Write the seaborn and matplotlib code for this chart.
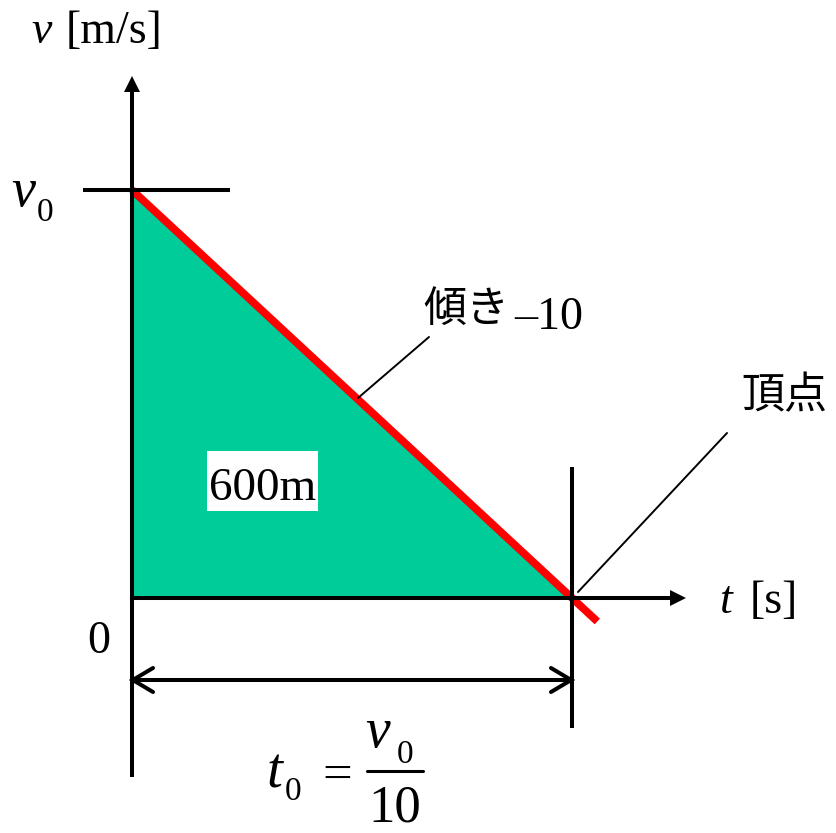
import matplotlib
matplotlib.use("Agg")
import matplotlib.pyplot as plt
import seaborn as sns
import pandas as pd

# ---- data ----
t0 = 10.95            # s  (t0 = v0/10)
v0 = 109.5            # m/s
slope_label = "–10"
area_label = "600m"
tri_t = [0.0, 0.0, t0]
tri_v = [0.0, v0, 0.0]
line_t = [0.0, 11.58]
line_v = [109.5, -6.3]

# ---- style ----
sns.set_theme(style="white")
plt.rcParams["font.family"] = ["Liberation Serif", "DejaVu Serif"]
SERIF = "Liberation Serif"
JP = "Noto Sans CJK JP"

W, H = 837, 833
fig = plt.figure(figsize=(W / 100, H / 100), dpi=100)
ax = fig.add_axes([0, 0, 1, 1])

# pixel layout helpers (layout only)
OX, OY = 132, 598
SX = 440 / t0
SY = 408 / v0
def X(px):
    return (px - OX) / SX
def Y(py):
    return (OY - py) / SY

ax.set_xlim(X(0), X(W))
ax.set_ylim(Y(H), Y(0))
ax.axis("off")

AXLW = 2.9
# filled triangle (distance)
ax.fill(tri_t, tri_v, color="#00CC99", lw=0, zorder=1)

# red v-t line
df = pd.DataFrame({"t": line_t, "v": line_v})
sns.lineplot(data=df, x="t", y="v", color="#FF0000", lw=5.6, sort=False,
             ax=ax, zorder=2, solid_capstyle="butt")

# axes
ax.plot([0, 0], [Y(777), Y(90)], color="black", lw=AXLW, zorder=3, solid_capstyle="butt")
ax.fill([X(124), X(132), X(140)], [Y(92), Y(76), Y(92)], color="black", lw=0, zorder=3)
ax.plot([0, X(672)], [0, 0], color="black", lw=AXLW, zorder=3, solid_capstyle="butt")
ax.fill([X(670), X(686), X(670)], [Y(590), Y(598), Y(606)], color="black", lw=0, zorder=3)

# v0 tick and t0 vertical
ax.plot([X(83), X(230)], [v0, v0], color="black", lw=AXLW, zorder=3, solid_capstyle="butt")
ax.plot([t0, t0], [Y(467), Y(728)], color="black", lw=AXLW, zorder=3, solid_capstyle="butt")

# dimension arrow
ax.plot([0, t0], [Y(680), Y(680)], color="black", lw=AXLW, zorder=3, solid_capstyle="butt")
ax.plot([X(153), 0.02, X(153)], [Y(668), Y(680), Y(692)], color="black", lw=AXLW,
        zorder=3, solid_capstyle="round", solid_joinstyle="miter")
ax.plot([X(551), t0 - 0.02, X(551)], [Y(668), Y(680), Y(692)], color="black", lw=AXLW,
        zorder=3, solid_capstyle="round", solid_joinstyle="miter")

# leader lines
ax.plot([X(358), X(429)], [Y(398), Y(337)], color="black", lw=1.4, zorder=3)
ax.plot([X(578), X(727)], [Y(592), Y(433)], color="black", lw=1.4, zorder=3)

# 600m box
ax.fill([X(207), X(318), X(318), X(207)], [Y(451), Y(451), Y(511), Y(511)],
        color="white", lw=0, zorder=4)

def txt(px, py, s, size, italic=False, family=SERIF, ha="left", va="baseline"):
    ax.text(X(px), Y(py), s, fontsize=size, fontstyle="italic" if italic else "normal",
            family=family, ha=ha, va=va, color="black", zorder=5)

txt(209, 500, area_label, 34)

# axis labels
txt(31, 43, "v", 33, italic=True)
txt(66, 43, "[m/s]", 33)
txt(720, 613, "t", 33, italic=True)
txt(750, 613, "[s]", 33)
txt(99, 653, "0", 33, ha="center")

# v0 label
txt(11, 206, "v", 39, italic=True)
txt(37, 221, "0", 24)

# slope label
txt(423, 310, "傾き", 31, family=JP, va="center")
txt(514, 329, slope_label, 33)

# vertex label
txt(784, 396, "頂点", 31, family=JP, ha="center", va="center")

# t0 = v0 / 10
txt(267, 787, "t", 41, italic=True)
txt(285, 800, "0", 24)
txt(337, 790, "=", 38, ha="center")
txt(365, 747, "v", 40, italic=True)
txt(397, 763, "0", 24)
ax.plot([X(367), X(423)], [Y(771), Y(771)], color="black", lw=2.2, zorder=5)
txt(395, 821, "10", 38, ha="center")

fig.savefig("out.png", dpi=100)
